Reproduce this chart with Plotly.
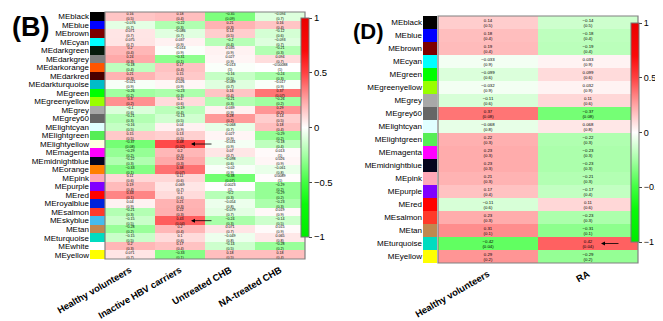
import plotly.graph_objects as go

# ---------------- Panel B data ----------------
b_modules = ["MEblack", "MEblue", "MEbrown", "MEcyan", "MEdarkgreen", "MEdarkgrey", "MEdarkorange",
             "MEdarkred", "MEdarkturquoise", "MEgreen", "MEgreenyellow", "MEgrey", "MEgrey60",
             "MElightcyan", "MElightgreen", "MElightyellow", "MEmagenta", "MEmidnightblue", "MEorange",
             "MEpink", "MEpurple", "MEred", "MEroyalblue", "MEsalmon", "MEskyblue", "MEtan",
             "MEturquoise", "MEwhite", "MEyellow"]
b_groups = ["Healthy volunteers", "Inactive HBV carriers", "Untreated CHB", "NA-treated CHB"]

b_healthy = [0.16, -0.076, 0.071, 0.075, 0.2, 0.24, -0.18, 0.21, -0.021, -0.26, 0.3, -0.1, -0.21,
             -0.16, 0.15, -0.37, -0.29, -0.22, -0.33, 0.11, 0.19, 0.33, 0.04, -0.21, -0.15, -0.28,
             -0.15, 0.2, 0.071]
b_healthy_p = [0.5, 0.7, 0.7, 0.7, 0.4, 0.3, 0.4, 0.3, 0.9, 0.2, 0.2, 0.6, 0.3,
               0.5, 0.5, 0.08, 0.2, 0.3, 0.1, 0.6, 0.4, 0.1, 0.9, 0.3, 0.5, 0.2,
               0.5, 0.3, 0.7]
b_inactive = [0.18, -0.22, -0.086, 0.037, -0.014, -0.31, 0.17, 0.15, 0.026, -0.23, 0.1, -0.19, -0.13,
              0.04, 0.13, 0.48, 0.2, 0.24, 0.38, 0.11, 0.069, 0.1, 0.21, 0.22, 0.43, 0.2,
              0.1, 0.17, -0.33]
b_inactive_p = [0.4, 0.3, 0.7, 0.9, 0.9, 0.1, 0.4, 0.5, 0.9, 0.3, 0.6, 0.4, 0.5,
                0.9, 0.5, 0.02, 0.3, 0.3, 0.07, 0.6, 0.7, 0.6, 0.3, 0.3, 0.04, 0.4,
                0.6, 0.4, 0.1]
b_untreated = [-0.35, 0.21, 0.14, -0.2, 0.035, 0.027, -0.013, -0.16, -0.089, 0.16, -0.21, 0.039, 0.28,
               -0.068, 0.027, -0.031, 0.07, -0.098, -0.02, -0.38, 0.0023, -0.2, -0.054, -0.079, -0.24,
               0.071, -0.049, -0.14, 0.18]
b_untreated_p = [0.09, 0.3, 0.5, 0.4, 0.9, 0.9, 1, 0.5, 0.7, 0.4, 0.3, 0.9, 0.2,
                 0.7, 0.9, 0.9, 0.7, 0.6, 0.9, 0.07, 1, 0.3, 0.8, 0.7, 0.3,
                 0.7, 0.8, 0.5, 0.5]
b_na = [-0.094, 0.16, -0.12, -0.093, -0.21, 0.094, -0.00088, -0.24, -0.017, 0.37, -0.26, 0.29, 0.14,
        0.18, -0.29, -0.18, 0.013, 0.026, -0.061, 0.0089, -0.29, -0.29, -0.23, 0.019, -0.14,
        0.015, 0.065, -0.28, 0.18]
b_na_p = [0.7, 0.4, 0.6, 0.7, 0.3, 0.7, 1, 0.3, 0.9, 0.07, 0.2, 0.2, 0.5,
          0.4, 0.2, 0.4, 1, 0.9, 0.8, 1, 0.2, 0.2, 0.3, 0.9, 0.5,
          0.9, 0.8, 0.2, 0.4]
b_module_colors = ["#000000", "#0000ff", "#7d0000", "#00ffff", "#061a0c", "#7f7f7f", "#ff5500",
                   "#4a0000", "#00bcc8", "#00ff00", "#99ff00", "#a8a8a8", "#666666",
                   "#e0ffff", "#55ee55", "#ffffe0", "#ff00ff", "#05051e", "#ff7f00",
                   "#ffa8b8", "#8000ff", "#ff0000", "#0022dd", "#ff3a2a", "#44bbee", "#c08850",
                   "#00dcc0", "#ffffff", "#ffff00"]

# ---------------- Panel D data ----------------
d_modules = ["MEblack", "MEblue", "MEbrown", "MEcyan", "MEgreen", "MEgreenyellow", "MEgrey", "MEgrey60",
             "MElightcyan", "MElightgreen", "MEmagenta", "MEmidnightblue", "MEpink", "MEpurple",
             "MEred", "MEsalmon", "MEtan", "MEturquoise", "MEyellow"]
d_groups = ["Healthy volunteers", "RA"]
d_healthy = [0.14, 0.18, 0.19, -0.033, -0.099, -0.032, -0.11, 0.37, -0.068, 0.22, 0.23, 0.23, 0.21,
             0.17, -0.11, 0.23, 0.31, -0.42, 0.29]
d_healthy_p = [0.5, 0.4, 0.4, 0.9, 0.6, 0.9, 0.6, 0.08, 0.8, 0.3, 0.3, 0.3, 0.3,
               0.4, 0.6, 0.3, 0.1, 0.04, 0.2]
d_ra = [-0.14, -0.18, -0.19, 0.033, 0.099, 0.032, 0.11, -0.37, 0.068, -0.22, -0.23, -0.23, -0.21,
        -0.17, 0.11, -0.23, -0.31, 0.42, -0.29]
d_ra_p = [0.5, 0.4, 0.4, 0.9, 0.6, 0.9, 0.6, 0.08, 0.8, 0.3, 0.3, 0.3, 0.3,
          0.4, 0.6, 0.3, 0.1, 0.04, 0.2]
d_module_colors = ["#000000", "#0000ff", "#7d0000", "#00ffff", "#00ff00", "#99ff00", "#a8a8a8",
                   "#666666", "#e0ffff", "#55ee55", "#ff00ff", "#05051e", "#ffa8b8", "#8000ff",
                   "#ff0000", "#ff3a2a", "#c08850", "#00dcc0", "#ffff00"]

colorbar_ticks = [-1, -0.5, 0, 0.5, 1]
colorbar_ticktext = ["\u22121", "\u22120.5", "0", "0.5", "1"]

W, H = 663, 321
FONT = "Arial"


def px_x(p):
    return p / W


def px_y(p):
    return 1 - p / H


def fmt(v):
    return f"{v:g}".replace("-", "\u2212")


def cell_text(vals_cols, p_cols):
    rows = []
    for i in range(len(vals_cols[0])):
        rows.append([f"{fmt(vc[i])}<br>({fmt(pc[i])})" for vc, pc in zip(vals_cols, p_cols)])
    return rows


def step_scale(colors):
    n = len(colors)
    sc = []
    for i, c in enumerate(colors):
        sc.append([i / n, c])
        sc.append([(i + 1) / n, c])
    return sc


gwr = [[0.0, "rgb(0,235,0)"], [0.15, "rgb(10,250,10)"], [0.25, "rgb(65,255,65)"],
       [0.375, "rgb(165,255,165)"], [0.5, "rgb(255,255,255)"], [0.625, "rgb(255,165,165)"],
       [0.75, "rgb(255,65,65)"], [0.85, "rgb(250,10,10)"], [1.0, "rgb(235,0,0)"]]

b_z = [list(r) for r in zip(b_healthy, b_inactive, b_untreated, b_na)]
b_text = cell_text([b_healthy, b_inactive, b_untreated, b_na],
                   [b_healthy_p, b_inactive_p, b_untreated_p, b_na_p])
d_z = [list(r) for r in zip(d_healthy, d_ra)]
d_text = cell_text([d_healthy, d_ra], [d_healthy_p, d_ra_p])

fig = go.Figure()

fig.add_trace(go.Heatmap(z=b_z, x=b_groups, y=b_modules, text=b_text, texttemplate="%{text}",
                         textfont=dict(size=3.6, color="black", family=FONT), coloraxis="coloraxis",
                         xaxis="x", yaxis="y", hoverinfo="skip"))
fig.add_trace(go.Heatmap(z=[[i] for i in range(len(b_modules))], x=["c"], y=b_modules,
                         colorscale=step_scale(b_module_colors), zmin=-0.5,
                         zmax=len(b_modules) - 0.5, showscale=False, xaxis="x3", yaxis="y",
                         hoverinfo="skip"))
fig.add_trace(go.Heatmap(z=d_z, x=d_groups, y=d_modules, text=d_text, texttemplate="%{text}",
                         textfont=dict(size=4.3, color="black", family=FONT), coloraxis="coloraxis2",
                         xaxis="x2", yaxis="y2", hoverinfo="skip"))
fig.add_trace(go.Heatmap(z=[[i] for i in range(len(d_modules))], x=["c"], y=d_modules,
                         colorscale=step_scale(d_module_colors), zmin=-0.5,
                         zmax=len(d_modules) - 0.5, showscale=False, xaxis="x4", yaxis="y2",
                         hoverinfo="skip"))

cb_common = dict(thickness=8, lenmode="pixels", len=219, xanchor="left", yanchor="middle",
                 xpad=0, ypad=0, ticklabeloverflow="allow",
                 tickvals=colorbar_ticks, ticktext=colorbar_ticktext, ticks="outside", ticklen=3,
                 outlinewidth=1, outlinecolor="#777777")

xt_font = dict(size=9.4, color="black", family=FONT, weight="bold")
lab_font = dict(size=8, color="black", family=FONT)

fig.update_layout(
    width=W, height=H, margin=dict(l=0, r=0, t=0, b=0, autoexpand=False),
    paper_bgcolor="white", plot_bgcolor="white", showlegend=False,
    coloraxis=dict(colorscale=gwr, cmin=-1, cmax=1,
                   colorbar=dict(x=px_x(293), y=px_y(119.5),
                                 tickfont=dict(size=9.5, color="black", family=FONT), **cb_common)),
    coloraxis2=dict(colorscale=gwr, cmin=-1, cmax=1,
                    colorbar=dict(x=px_x(623), y=px_y(124.5),
                                  tickfont=dict(size=9, color="black", family=FONT), **cb_common)),
    xaxis=dict(domain=[px_x(97), px_x(297)], anchor="y", tickangle=-30, tickfont=xt_font,
               ticks="", showgrid=False, zeroline=False, ticklabelstandoff=3, automargin=False),
    yaxis=dict(domain=[px_y(251), px_y(4)], anchor="x3", autorange="reversed", ticks="",
               tickmode="array", tickvals=b_modules, ticktext=b_modules,
               tickfont=lab_font, showgrid=False, zeroline=False, automargin=False),
    xaxis3=dict(domain=[px_x(82), px_x(97)], anchor="y", showticklabels=False, ticks="",
                showgrid=False, zeroline=False, automargin=False),
    xaxis2=dict(domain=[px_x(430), px_x(630)], anchor="y2", tickangle=-30, tickfont=xt_font,
                ticks="", showgrid=False, zeroline=False, ticklabelstandoff=3, automargin=False),
    yaxis2=dict(domain=[px_y(255), px_y(8)], anchor="x4", autorange="reversed", ticks="",
                tickmode="array", tickvals=d_modules, ticktext=d_modules,
                tickfont=lab_font, showgrid=False, zeroline=False, automargin=False),
    xaxis4=dict(domain=[px_x(415), px_x(429)], anchor="y2", showticklabels=False, ticks="",
                showgrid=False, zeroline=False, automargin=False),
)

for xr, yr in (("x", "y"), ("x2", "y2")):
    fig.add_shape(type="rect", xref=f"{xr} domain", yref=f"{yr} domain", x0=0, x1=1, y0=0, y1=1,
                  line=dict(color="#808080", width=1.2), fillcolor="rgba(0,0,0,0)")

arrow = dict(text="", showarrow=True, arrowhead=2, arrowsize=1, arrowwidth=0.8,
             arrowcolor="black", ay=0)
fig.add_annotation(x=1.22, y="MElightyellow", xref="x", yref="y", ax=22, **arrow)
fig.add_annotation(x=1.22, y="MEskyblue", xref="x", yref="y", ax=22, **arrow)
fig.add_annotation(x=1.13, y="MEturquoise", xref="x2", yref="y2", ax=19, **arrow)

fig.add_annotation(text="<b>(B)</b>", x=px_x(2), y=px_y(19), xref="paper", yref="paper",
                   xanchor="left", yanchor="middle", showarrow=False,
                   font=dict(size=27, color="black", family=FONT))
fig.add_annotation(text="<b>(D)</b>", x=px_x(343), y=px_y(23), xref="paper", yref="paper",
                   xanchor="left", yanchor="middle", showarrow=False,
                   font=dict(size=22, color="black", family=FONT))

fig.write_html("out.html")
